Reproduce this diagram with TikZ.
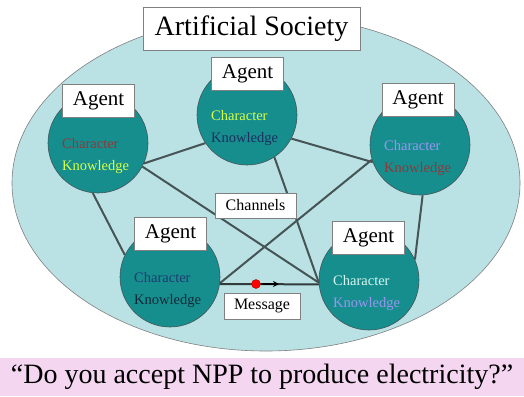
\documentclass[tikz,border=0pt]{standalone}
\usepackage{fontspec}
\setmainfont{Liberation Serif}
\usetikzlibrary{arrows.meta}
\definecolor{bgcyan}{RGB}{186,226,229}
\definecolor{teal1}{RGB}{22,142,142}
\definecolor{edgegray}{RGB}{70,84,86}
\definecolor{pinkband}{RGB}{244,214,240}
\definecolor{cdred}{RGB}{140,58,58}
\definecolor{cygreen}{RGB}{214,255,70}
\definecolor{cnavy}{RGB}{30,46,96}
\definecolor{clav}{RGB}{150,150,240}
\definecolor{cblue}{RGB}{30,60,110}
\definecolor{cdark}{RGB}{16,40,56}
\definecolor{clight}{RGB}{214,246,240}
\tikzset{
  agentcirc/.style={circle, draw=edgegray, line width=0.6pt, fill=teal1, minimum size=100pt, inner sep=0pt},
  agentlbl/.style={draw=gray, fill=white, minimum width=72pt, minimum height=33pt, inner sep=0pt, font=\fontsize{21}{24}\selectfont},
  inner/.style={anchor=base west, inner sep=0pt, font=\fontsize{14.5}{16}\selectfont},
  smallbox/.style={draw=gray, fill=white, inner sep=0pt, font=\fontsize{16}{18}\selectfont},
  chanline/.style={draw=edgegray, line width=2pt},
}
\newcommand\mkagent[5]{%
  \node[agentcirc] (#1) at (#2,#3) {};
  \node[inner, text=#4] (#1c) at (#2-36,#3+5) {Character};
  \node[inner, text=#5] (#1k) at (#2-36,#3+27) {Knowledge};
}
\begin{document}
\begin{tikzpicture}[x=1pt,y=-1pt]
\useasboundingbox (0,0) rectangle (524,396);
\fill[white] (0,0) rectangle (524,396);
% pink band
\fill[pinkband] (0,358) rectangle (524,396);
\node[font=\fontsize{28}{32}\selectfont] (question) at (262,377) {“Do you accept NPP to produce electricity?”};
% society ellipse
\draw[draw=gray, fill=bgcyan, line width=0.6pt] (266,183) ellipse [x radius=254pt, y radius=168pt];
\node[draw=gray, fill=white, minimum width=217pt, minimum height=43pt, inner sep=0pt, font=\fontsize{28}{32}\selectfont] (title) at (251.5,28.5) {Artificial Society};
% agents
\mkagent{tl}{98}{143}{cdred}{cygreen}
\mkagent{tc}{247}{115}{cygreen}{cnavy}
\mkagent{tr}{420}{145}{clav}{cdred}
\mkagent{bl}{170}{277}{cblue}{cdark}
\mkagent{br}{369}{280}{clight}{clav}
% channels
\draw[chanline] (tl.-24) -- (tc.214);
\draw[chanline] (tc.-28) -- (tr.200);
\draw[chanline] (tl.-28) -- (br.183);
\draw[chanline] (tc.-57) -- (br.183);
\draw[chanline] (tr.197) -- (bl.-7);
\draw[chanline] (tl.-96) -- (bl.154);
\draw[chanline] (tr.-87) -- (br.24);
\draw[draw=edgegray!70!black, line width=2pt] (bl.-8) -- (br.185);
% message
\node[circle, fill=red, draw=red!70!black, minimum size=9pt, inner sep=0pt] (dot) at (256,284) {};
\coordinate (msgend) at (279,284);
\draw[black, line width=1.6pt, -{Stealth[length=6pt,width=6pt]}] (dot) -- (msgend);
% agent labels
\node[agentlbl] (tll) at (98.5,100.5) {Agent};
\node[agentlbl] (tcl) at (247.5,73.5) {Agent};
\node[agentlbl] (trl) at (418,100) {Agent};
\node[agentlbl] (bll) at (170.5,233.5) {Agent};
\node[agentlbl] (brl) at (368.5,237.5) {Agent};
% small boxes
\node[smallbox, minimum width=81pt, minimum height=25pt] (channels) at (255.5,205.5) {Channels};
\node[smallbox, minimum width=76pt, minimum height=26pt] (message) at (262,306) {Message};
\end{tikzpicture}
\end{document}
